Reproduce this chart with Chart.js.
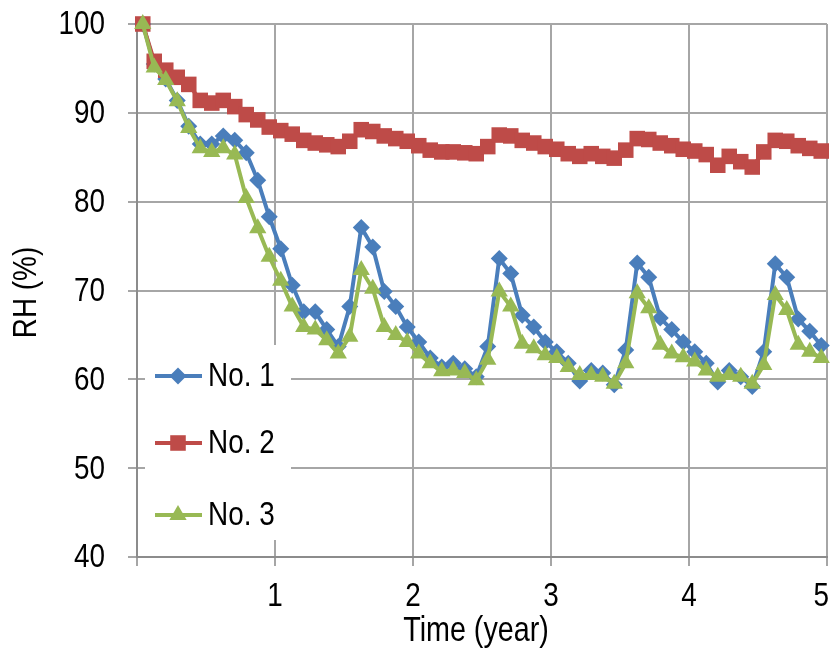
<!DOCTYPE html>
<html>
<head>
<meta charset="utf-8">
<script src="https://cdn.jsdelivr.net/npm/chart.js@4/dist/chart.umd.min.js"></script>
<style>
  html, body { margin: 0; padding: 0; background: #fff; }
  #wrap { width: 834px; height: 649px; position: relative; }
</style>
</head>
<body>
<div id="wrap"><canvas id="c" width="834" height="649"></canvas></div>
<script>
// Month index (1..60) of each monthly reading
const months = [1,2,3,4,5,6,7,8,9,10,11,12,13,14,15,16,17,18,19,20,
  21,22,23,24,25,26,27,28,29,30,31,32,33,34,35,36,37,38,39,40,
  41,42,43,44,45,46,47,48,49,50,51,52,53,54,55,56,57,58,59,60];

const seriesNames = ['No. 1', 'No. 2', 'No. 3'];

const no1 = [100,95.5,93.8,91.4,88.5,86.5,86.5,87.4,86.9,85.5,82.4,78.3,
  74.7,70.6,67.6,67.6,65.6,63.7,68.2,77.1,74.9,69.9,68.2,65.9,
  64.2,62.4,61.4,61.8,61.2,60.3,63.7,73.6,71.9,67.2,65.9,64.2,
  63.1,61.8,59.8,61.0,60.7,59.4,63.3,73.1,71.5,66.9,65.6,64.2,
  63.1,61.8,59.7,61.0,60.3,59.2,63.1,73.0,71.5,66.8,65.4,63.8];

const no2 = [100,95.8,94.8,94.0,93.2,91.4,91.1,91.4,90.7,89.8,89.2,88.4,
  88.0,87.6,86.9,86.6,86.4,86.2,86.8,88.1,87.9,87.4,87.1,86.8,
  86.3,85.8,85.6,85.6,85.5,85.4,86.2,87.5,87.4,86.9,86.6,86.2,
  85.9,85.4,85.1,85.4,85.1,84.9,85.8,87.1,87.0,86.6,86.3,85.9,
  85.7,85.3,84.1,85.1,84.5,83.9,85.6,86.9,86.8,86.3,86.0,85.7];

const no3 = [100,95.1,93.7,91.3,88.3,86.0,85.6,86.0,85.3,80.4,77.0,73.8,
  71.1,68.2,65.9,65.6,64.4,62.9,64.8,72.3,70.2,65.9,65.0,64.2,
  62.9,61.8,60.9,61.0,60.7,59.9,62.2,69.9,68.2,64.0,63.5,62.7,
  62.4,61.4,60.5,60.5,60.3,59.5,61.8,69.7,68.0,63.9,62.9,62.5,
  62.0,61.0,60.3,60.5,60.3,59.5,61.6,69.5,67.8,63.9,63.1,62.4];

const xTicks = [1, 2, 3, 4, 5];
const yTicks = [40, 50, 60, 70, 80, 90, 100];
const xTitle = 'Time (year)';
const yTitle = 'RH (%)';

const FONT = "'Liberation Sans', Arial, sans-serif";
const NARROW = 0.82; // Arial Narrow look
const colors = ['#4A7EBB', '#BE4B48', '#98B954'];
const shapes = ['rectRot', 'rect', 'triangle'];
const radii = [8.5, 11, 10];

function toPoints(vals) {
  return vals.map((v, i) => ({ x: (months[i] - 0.5) / 12, y: v }));
}

const datasets = [no1, no2, no3].map((vals, k) => ({
  label: seriesNames[k],
  data: toPoints(vals),
  borderColor: colors[k],
  backgroundColor: colors[k],
  borderWidth: 4,
  pointStyle: shapes[k],
  pointRadius: radii[k],
  pointHoverRadius: radii[k],
  pointBorderWidth: 0,
  pointBackgroundColor: colors[k],
  order: 3 - k,
  tension: 0,
  clip: 12
}));

function narrowText(ctx, text, x, y, align, size, rot) {
  ctx.save();
  ctx.translate(x, y);
  if (rot) ctx.rotate(rot);
  ctx.scale(NARROW, 1);
  ctx.font = size + 'px ' + FONT;
  ctx.fillStyle = '#000';
  ctx.textAlign = align;
  ctx.textBaseline = 'middle';
  ctx.fillText(text, 0, 0);
  ctx.restore();
}

const textPlugin = {
  id: 'narrowText',
  afterDraw(chart) {
    const ctx = chart.ctx;
    const xs = chart.scales.x, ys = chart.scales.y;
    const a = chart.chartArea;
    // y tick labels
    yTicks.forEach(v => narrowText(ctx, String(v), a.left - 32, ys.getPixelForValue(v) + 1, 'right', 34));
    // x tick labels
    ctx.font = '34px ' + FONT;
    xTicks.forEach(v => {
      let x = xs.getPixelForValue(v);
      const half = ctx.measureText(String(v)).width * NARROW / 2;
      x = Math.min(x, chart.width - 5 - half);
      narrowText(ctx, String(v), x, a.bottom + 40, 'center', 34);
    });
    // titles
    narrowText(ctx, xTitle, (a.left + a.right) / 2 - 6, a.bottom + 74, 'center', 35);
    narrowText(ctx, yTitle, 27, (a.top + a.bottom) / 2 + 2, 'center', 34, -Math.PI / 2);

    // legend inside plot
    const left = a.left + 8, top = a.top + 321, w = 146, h = 195;
    ctx.save();
    ctx.fillStyle = '#ffffff';
    ctx.fillRect(left, top, w, h);
    const rowY = [top + 31, top + 98, top + 170];
    chart.data.datasets.forEach((ds, k) => {
      const y = rowY[k];
      ctx.strokeStyle = ds.borderColor;
      ctx.lineWidth = 4;
      ctx.beginPath();
      ctx.moveTo(left + 10, y);
      ctx.lineTo(left + 57, y);
      ctx.stroke();
      ctx.fillStyle = ds.backgroundColor;
      Chart.helpers.drawPoint(ctx, {
        pointStyle: ds.pointStyle, radius: ds.pointRadius, borderWidth: 0, rotation: 0
      }, left + 33, y);
      narrowText(ctx, ds.label, left + 63, y + 1, 'left', 34);
    });
    ctx.restore();
  }
};

new Chart(document.getElementById('c'), {
  type: 'line',
  data: { datasets },
  plugins: [textPlugin],
  options: {
    responsive: false,
    animation: false,
    layout: { autoPadding: false, padding: { top: 24, right: 7, left: 0, bottom: 0 } },
    plugins: { legend: { display: false }, tooltip: { enabled: false } },
    scales: {
      x: {
        type: 'linear',
        min: 0, max: 5,
        afterBuildTicks: (s) => { s.ticks = [0].concat(xTicks).map(v => ({ value: v })); },
        afterFit: (s) => { s.height = 92; },
        ticks: { display: false },
        grid: { color: '#a6a6a6', lineWidth: 2, tickLength: 9 },
        border: { color: '#8c8c8c', width: 2 }
      },
      y: {
        min: 40, max: 100,
        afterBuildTicks: (s) => { s.ticks = yTicks.map(v => ({ value: v })); },
        afterFit: (s) => { s.width = 137; },
        ticks: { display: false },
        grid: { color: '#a6a6a6', lineWidth: 2, tickLength: 9 },
        border: { color: '#8c8c8c', width: 2 }
      }
    }
  }
});
</script>
</body>
</html>
